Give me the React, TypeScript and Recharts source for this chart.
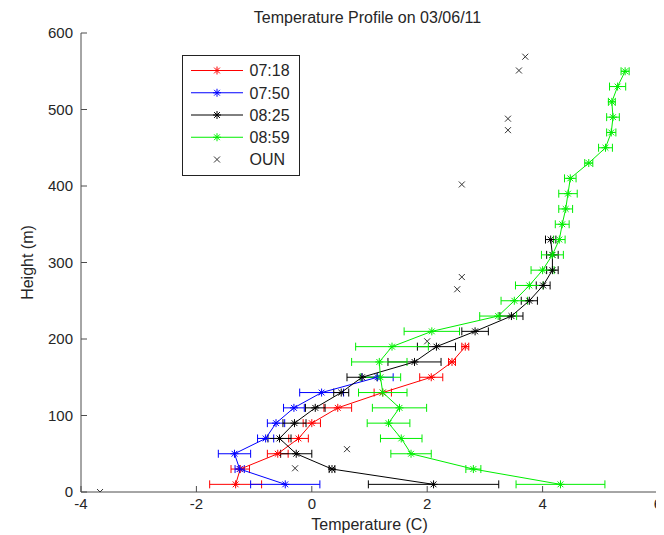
import React from 'react';
import { ScatterChart, Scatter, XAxis, YAxis, ErrorBar, Legend } from 'recharts';

// heights of the tethered sonde levels (m)
const heights = [10, 30, 50, 70, 90, 110, 130, 150, 170, 190, 210, 230, 250, 270, 290, 310, 330,
  350, 370, 390, 410, 430, 450, 470, 490, 510, 530, 550];

const temp0718 = [-1.32, -1.24, -0.59, -0.23, 0.0, 0.45, 1.23, 2.07, 2.43, 2.66];
const err0718 = [0.45, 0.16, 0.18, 0.17, 0.15, 0.24, 0.15, 0.2, 0.06, 0.06];

const temp0750 = [-0.46, -1.25, -1.34, -0.8, -0.62, -0.31, 0.17, 1.14];
const err0750 = [0.6, 0.08, 0.28, 0.14, 0.15, 0.18, 0.38, 0.27];

const temp0825 = [2.11, 0.35, -0.27, -0.56, -0.3, 0.06, 0.51, 0.87, 1.78, 2.16, 2.83, 3.46, 3.77,
  4.01, 4.17, 4.17, 4.14];
const err0825 = [1.13, 0.05, 0.27, 0.2, 0.2, 0.17, 0.13, 0.26, 0.46, 0.33, 0.23, 0.2, 0.14, 0.12,
  0.1, 0.1, 0.09];

const temp0859 = [4.31, 2.8, 1.72, 1.55, 1.33, 1.52, 1.23, 1.19, 1.17, 1.39, 2.08, 3.23, 3.51, 3.77,
  4.0, 4.17, 4.29, 4.34, 4.4, 4.44, 4.48, 4.8, 5.09, 5.19, 5.22, 5.2, 5.3, 5.43];
const err0859 = [0.77, 0.13, 0.35, 0.36, 0.37, 0.47, 0.42, 0.35, 0.48, 0.63, 0.48, 0.32, 0.23, 0.24,
  0.2, 0.19, 0.1, 0.12, 0.12, 0.16, 0.1, 0.07, 0.12, 0.08, 0.11, 0.06, 0.14, 0.07];

// OUN sounding
const ounTemp = [-3.67, -0.29, 0.61, 2.0, 2.52, 2.6, 2.6, 3.4, 3.4, 3.59, 3.7];
const ounHeight = [0, 31, 56, 197, 265, 281, 402, 473, 488, 551, 569];

const xTicks = [-4, -2, 0, 2, 4, 6];
const yTicks = [0, 100, 200, 300, 400, 500, 600];

const series = [
  { name: '07:18', color: '#ff0000', temps: temp0718, errs: err0718 },
  { name: '07:50', color: '#0000ff', temps: temp0750, errs: err0750 },
  { name: '08:25', color: '#000000', temps: temp0825, errs: err0825 },
  { name: '08:59', color: '#00ee00', temps: temp0859, errs: err0859 },
];

const ounPoints = ounTemp.map((t, i) => ({ t, h: ounHeight[i] }));

const font = '"Liberation Sans", Arial, Helvetica, sans-serif';
const axisColor = '#4d4d4d';
const textColor = '#262626';

const asterisk = (color: string) => (props: any) => {
  const { cx, cy } = props;
  if (cx == null || cy == null) return <g />;
  const r = 4;
  const d = 2.9;
  return (
    <g stroke={color} strokeWidth={1}>
      <line x1={cx - r} y1={cy} x2={cx + r} y2={cy} />
      <line x1={cx} y1={cy - r} x2={cx} y2={cy + r} />
      <line x1={cx - d} y1={cy - d} x2={cx + d} y2={cy + d} />
      <line x1={cx - d} y1={cy + d} x2={cx + d} y2={cy - d} />
    </g>
  );
};

const xMark = (props: any) => {
  const { cx, cy } = props;
  if (cx == null || cy == null) return <g />;
  const r = 3;
  return (
    <g stroke="#333" strokeWidth={1}>
      <line x1={cx - r} y1={cy - r} x2={cx + r} y2={cy + r} />
      <line x1={cx - r} y1={cy + r} x2={cx + r} y2={cy - r} />
    </g>
  );
};

const renderLegend = () => (
  <svg width={118} height={121} style={{ display: 'block' }}>
    <rect x={0.5} y={0.5} width={117} height={120} fill="#fff" stroke="#222" />
    {series.map((s, i) => {
      const y = 15.5 + i * 22.25;
      return (
        <g key={s.name}>
          <line x1={9} x2={61} y1={y} y2={y} stroke={s.color} />
          {asterisk(s.color)({ cx: 35, cy: y })}
          <text x={67.5} y={y} dy="0.36em" fontSize={16} fontFamily={font} fill={textColor}>
            {s.name}
          </text>
        </g>
      );
    })}
    {xMark({ cx: 35, cy: 15.5 + 4 * 22.25 })}
    <text x={67.5} y={15.5 + 4 * 22.25} dy="0.36em" fontSize={16} fontFamily={font} fill={textColor}>
      OUN
    </text>
  </svg>
);

export default function App() {
  return (
    <div style={{ position: 'relative', width: 656, height: 527, fontFamily: font }}>
      <div
        style={{
          position: 'absolute',
          left: 68,
          top: 2,
          width: 583,
          textAlign: 'center',
          fontSize: 16,
          lineHeight: '16px',
          color: textColor,
          zIndex: 2,
        }}
      >
        Temperature Profile on 03/06/11
      </div>
      <ScatterChart width={656} height={527} margin={{ top: 25, right: 6, bottom: 0, left: 0 }}>
        <XAxis
          type="number"
          dataKey="t"
          domain={[-4, 6]}
          ticks={xTicks}
          interval={0}
          allowDataOverflow
          height={43}
          tickSize={-6}
          tickMargin={12.5}
          stroke={axisColor}
          tick={{ fill: textColor, fontSize: 15, fontFamily: font }}
          label={{
            value: 'Temperature (C)',
            position: 'insideBottom',
            offset: 5,
            fill: textColor,
            fontSize: 16,
            fontFamily: font,
          }}
        />
        <YAxis
          type="number"
          dataKey="h"
          domain={[0, 600]}
          ticks={yTicks}
          interval={0}
          allowDataOverflow
          width={73}
          tickSize={-6}
          tickMargin={14}
          stroke={axisColor}
          tick={{ fill: textColor, fontSize: 15, fontFamily: font }}
          label={{
            value: 'Height (m)',
            angle: -90,
            position: 'insideLeft',
            offset: 19,
            fill: textColor,
            fontSize: 16,
            fontFamily: font,
            style: { textAnchor: 'middle' },
          }}
        />
        {series.map((s) => (
          <Scatter
            key={s.name}
            name={s.name}
            data={s.temps.map((t, i) => ({ t, h: heights[i], e: s.errs[i] }))}
            fill={s.color}
            line={{ stroke: s.color, strokeWidth: 1 }}
            shape={asterisk(s.color)}
            isAnimationActive={false}
          >
            <ErrorBar dataKey="e" direction="x" width={4} stroke={s.color} strokeWidth={1} />
          </Scatter>
        ))}
        <Scatter name="OUN" data={ounPoints} fill="#333" shape={xMark} isAnimationActive={false} />
        <Legend
          content={renderLegend}
          layout="vertical"
          align="center"
          verticalAlign="middle"
          wrapperStyle={{ left: 173.5, top: 46.5, width: 118, height: 121 }}
        />
      </ScatterChart>
    </div>
  );
}
